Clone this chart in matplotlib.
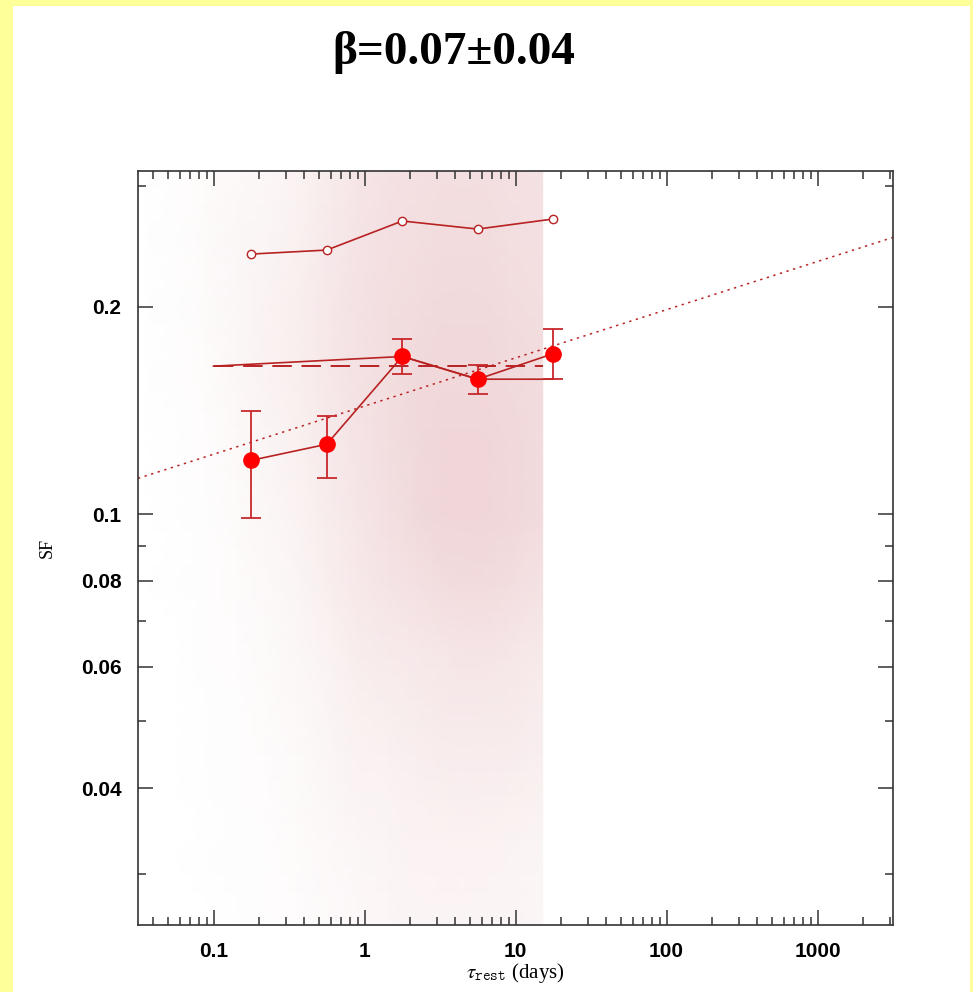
import numpy as np
import matplotlib
matplotlib.use("Agg")
import matplotlib.pyplot as plt
from matplotlib.patches import Rectangle
from matplotlib.colors import LinearSegmentedColormap

# binned structure function (filled points with error bars)
tau_bins = [0.178, 0.562, 1.78, 5.62, 17.8]
sf_bin = [0.1197, 0.1263, 0.1694, 0.1570, 0.1710]
sf_hi = [0.1410, 0.1387, 0.1795, 0.1645, 0.1860]
sf_lo = [0.0987, 0.1130, 0.1595, 0.1493, 0.1570]

# upper curve (open circles)
sf_open = [0.2386, 0.2418, 0.2665, 0.2594, 0.2683]

# second solid curve, no markers
alt_tau = [0.1, 1.78, 5.62, 17.8]
alt_sf = [0.164, 0.1694, 0.1570, 0.1570]

# mean level (dashed)
mean_tau = [0.1, 15.1]
mean_sf = [0.164, 0.164]

# power law fit SF = A * tau^beta
fit_amp = 0.1435
fit_beta = 0.07
fit_tau = [10 ** -1.5, 10 ** 3.5]

# density of the individual pairs (relative), log10 grid nodes
dens_logtau = [-1.45, -1.25, -1.05, -0.85, -0.65, -0.45, -0.25, -0.05,
               0.15, 0.35, 0.55, 0.75, 0.95, 1.18]
dens_logsf = [-1.6, -1.5, -1.4, -1.3, -1.2, -1.1, -1.0, -0.9, -0.8, -0.7, -0.6, -0.5]
dens = [
    [0, 0, 0.01, 0.03, 0.05, 0.08, 0.12, 0.18, 0.22, 0.26, 0.28, 0.28, 0.26, 0.22],
    [0, 0, 0.02, 0.04, 0.06, 0.10, 0.15, 0.20, 0.25, 0.30, 0.30, 0.30, 0.28, 0.25],
    [0, 0.01, 0.02, 0.05, 0.08, 0.12, 0.20, 0.30, 0.32, 0.36, 0.40, 0.42, 0.40, 0.35],
    [0, 0.01, 0.03, 0.06, 0.10, 0.16, 0.25, 0.35, 0.40, 0.45, 0.50, 0.52, 0.50, 0.42],
    [0, 0.01, 0.04, 0.08, 0.12, 0.20, 0.30, 0.45, 0.50, 0.55, 0.62, 0.65, 0.60, 0.50],
    [0, 0.02, 0.05, 0.10, 0.15, 0.25, 0.40, 0.55, 0.65, 0.75, 0.85, 0.88, 0.82, 0.70],
    [0.01, 0.02, 0.06, 0.12, 0.20, 0.30, 0.45, 0.60, 0.75, 0.90, 1.00, 1.00, 0.95, 0.85],
    [0.01, 0.03, 0.08, 0.15, 0.25, 0.35, 0.50, 0.65, 0.80, 0.90, 1.00, 1.00, 0.95, 0.85],
    [0.02, 0.04, 0.10, 0.20, 0.30, 0.40, 0.55, 0.70, 0.80, 0.90, 0.95, 0.95, 0.90, 0.85],
    [0.02, 0.05, 0.12, 0.20, 0.30, 0.40, 0.55, 0.70, 0.80, 0.85, 0.90, 0.90, 0.85, 0.80],
    [0.02, 0.05, 0.12, 0.20, 0.25, 0.35, 0.50, 0.65, 0.75, 0.80, 0.85, 0.85, 0.80, 0.75],
    [0.02, 0.05, 0.10, 0.15, 0.20, 0.30, 0.45, 0.60, 0.70, 0.75, 0.80, 0.80, 0.75, 0.70],
]

xticks = [0.1, 1, 10, 100, 1000]
xticklabels = ["0.1", "1", "10", "100", "1000"]
yticks = [0.04, 0.06, 0.08, 0.1, 0.2]
yticklabels = ["0.04", "0.06", "0.08", "0.1", "0.2"]
yminor = [0.03, 0.05, 0.07, 0.09, 0.3]

line_col = "#b82222"
pt_col = "#ff0000"
err_col = "#c8282c"

plt.rcParams["mathtext.fontset"] = "stix"

fig = plt.figure(figsize=(9.73, 9.92), dpi=100)
fig.patch.set_facecolor("#ffff99")
# white page inside the yellow frame
fig.add_artist(Rectangle((13 / 973, 0), (970 - 13) / 973, 986 / 992,
                         transform=fig.transFigure, facecolor="white",
                         edgecolor="none", zorder=-10))

ax = fig.add_axes([138 / 973, 67 / 992, 755 / 973, 754 / 992])
ax.set_xscale("log")
ax.set_yscale("log")
ax.set_xlim(10 ** -1.5, 10 ** 3.5)
ax.set_ylim(0.0253, 0.315)

# cloud of individual pairs
haze = LinearSegmentedColormap.from_list("haze", ["#ffffff", "#f0d6d8"])
X, Y = np.meshgrid(10 ** np.array(dens_logtau), 10 ** np.array(dens_logsf))
ax.pcolormesh(X, Y, np.array(dens), shading="gouraud", cmap=haze,
              vmin=0, vmax=1, zorder=0)

# fit line
ft = np.array(fit_tau)
ax.plot(ft, fit_amp * ft ** fit_beta, color=line_col, lw=1.1,
        ls=(0, (1.5, 3)), zorder=2)

ax.plot(mean_tau, mean_sf, color=line_col, lw=1.4, ls=(0, (10, 5)), zorder=3)
ax.plot(alt_tau, alt_sf, color=line_col, lw=1.2, zorder=3)
ax.plot(tau_bins, sf_open, color=line_col, lw=1.2, marker="o", ms=6,
        mfc="white", mec=line_col, mew=1.0, zorder=4)

yerr = [np.array(sf_bin) - np.array(sf_lo), np.array(sf_hi) - np.array(sf_bin)]
ax.errorbar(tau_bins, sf_bin, yerr=yerr, fmt="none", ecolor=err_col,
            elinewidth=1.3, capsize=7, capthick=1.3, zorder=4)
ax.plot(tau_bins, sf_bin, color=line_col, lw=1.2, zorder=4)
ax.plot(tau_bins, sf_bin, ls="none", marker="o", ms=11, mfc=pt_col,
        mec=pt_col, zorder=5)

# axes in the old-style boxed look
for s in ax.spines.values():
    s.set_color("#333333")
    s.set_linewidth(1.2)
ax.set_xticks(xticks)
ax.set_xticklabels(xticklabels)
ax.set_yticks(yticks)
ax.set_yticklabels(yticklabels)
ax.set_yticks(yminor, minor=True)
ax.yaxis.set_minor_formatter(plt.NullFormatter())
ax.tick_params(which="both", direction="in", top=True, right=True,
               color="#333333", width=1.1)
ax.tick_params(which="major", length=10.5)
ax.tick_params(which="minor", length=5.5)
ax.tick_params(axis="x", which="major", pad=12)
ax.tick_params(axis="y", which="major", pad=12)
for lab in ax.get_xticklabels() + ax.get_yticklabels():
    lab.set_family("Liberation Sans")
    lab.set_fontweight("bold")
    lab.set_fontsize(15)

ax.set_xlabel(r"$\tau_{\mathtt{rest}}$ (days)", family="Liberation Serif",
              fontsize=15, labelpad=0)
ax.set_ylabel("SF", family="Liberation Serif", fontsize=13, labelpad=18)

fig.text(454 / 973, 1 - 52 / 992, "β=0.07±0.04", family="Liberation Serif",
         fontweight="bold", fontsize=34, ha="center", va="center")

fig.savefig("out.png", dpi=100, facecolor=fig.get_facecolor())
